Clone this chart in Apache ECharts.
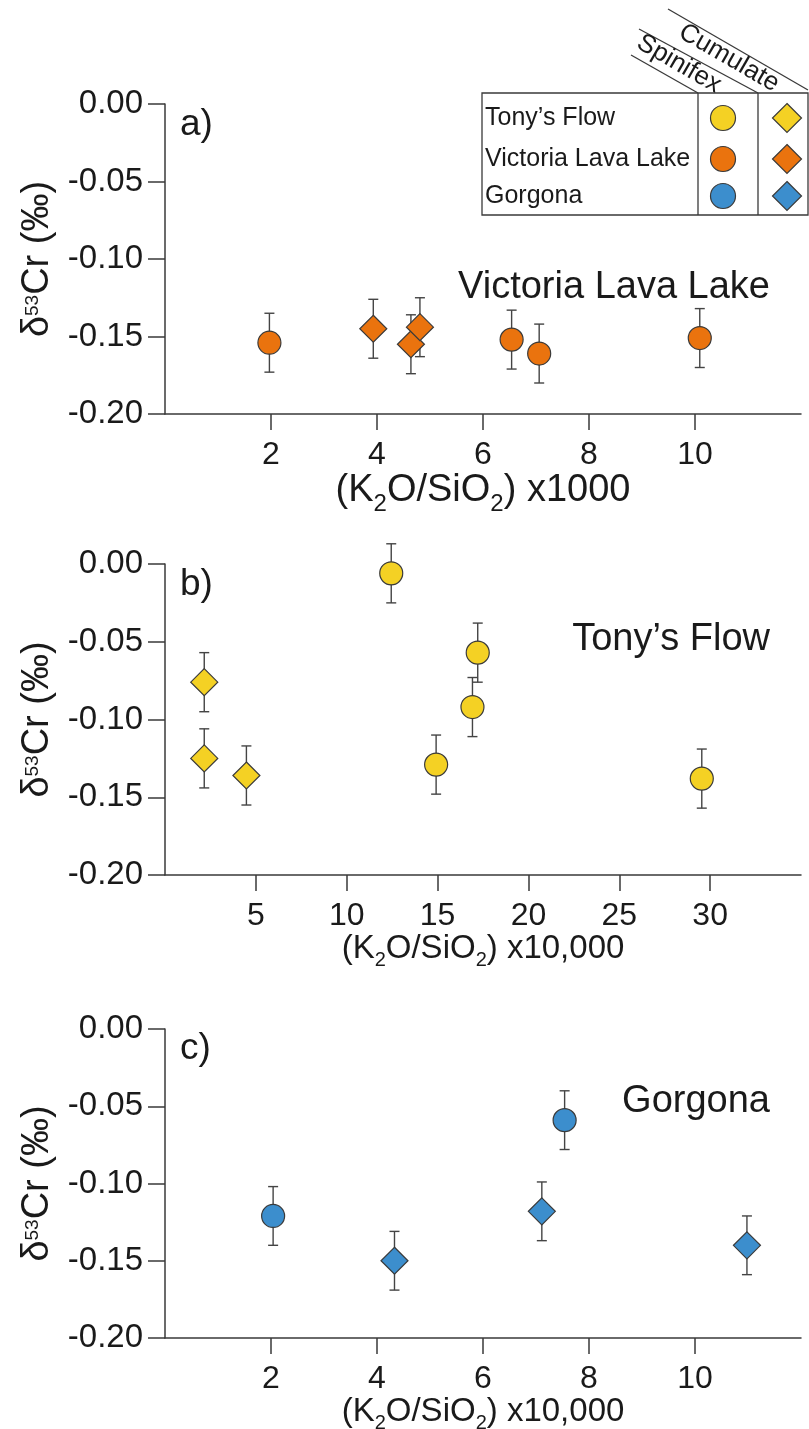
<!DOCTYPE html>
<html><head><meta charset="utf-8">
<script src="https://cdn.jsdelivr.net/npm/echarts@6/dist/echarts.min.js"></script>
<style>html,body{margin:0;padding:0;background:#fff}#c{width:809px;height:1429px}</style>
</head><body><div id="c"></div>
<script>
// ---- data ----
// a) Victoria Lava Lake, x = (K2O/SiO2) x1000
const vllSpinX = [1.97, 6.54, 7.06, 10.09];
const vllSpinY = [-0.154, -0.152, -0.161, -0.151];
const vllSpinErr = [0.019, 0.019, 0.019, 0.019];
const vllCumX = [3.93, 4.64, 4.81];
const vllCumY = [-0.145, -0.155, -0.144];
const vllCumErr = [0.019, 0.019, 0.019];
// b) Tony's Flow, x = (K2O/SiO2) x10,000
const tfSpinX = [12.45, 14.92, 16.92, 17.21, 29.54];
const tfSpinY = [-0.006, -0.129, -0.092, -0.057, -0.138];
const tfSpinErr = [0.019, 0.019, 0.019, 0.019, 0.019];
const tfCumX = [2.16, 2.16, 4.48];
const tfCumY = [-0.076, -0.125, -0.136];
const tfCumErr = [0.019, 0.019, 0.019];
// c) Gorgona, x = (K2O/SiO2) x10,000
const gorSpinX = [2.04, 7.54];
const gorSpinY = [-0.121, -0.059];
const gorSpinErr = [0.019, 0.019];
const gorCumX = [4.33, 7.11, 10.98];
const gorCumY = [-0.150, -0.118, -0.140];
const gorCumErr = [0.019, 0.019, 0.019];

const xTicksA = [2, 4, 6, 8, 10];
const xTicksB = [5, 10, 15, 20, 25, 30];
const xTicksC = [2, 4, 6, 8, 10];
const yTicks = [-0.20, -0.15, -0.10, -0.05, 0.00];

const panelLabels = ['a)', 'b)', 'c)'];
const panelNames = ['Victoria Lava Lake', "Tony\u2019s Flow", 'Gorgona'];
const legendRows = ["Tony\u2019s Flow", 'Victoria Lava Lake', 'Gorgona'];
const legendCols = ['Spinifex', 'Cumulate'];

// ---- styles ----
const FONT = '"Liberation Sans", Arial, sans-serif';
const AX = '#3a3a3a';
const TXT = '#1a1a1a';
const YEL = '#F4D124', ORA = '#EA730E', BLU = '#3C8ECD';
const EDGE = '#3a3a3a';

function zip(xs, ys, es) { return xs.map((x, i) => es ? [x, ys[i], es[i]] : [x, ys[i]]); }

const grids = [
  { left: 165, top: 104, width: 636, height: 310, outerBoundsMode: 'none', containLabel: false },
  { left: 165, top: 564, width: 636, height: 311, outerBoundsMode: 'none', containLabel: false },
  { left: 165, top: 1029, width: 636, height: 309, outerBoundsMode: 'none', containLabel: false }
];

function xAxisCfg(gi, max, interval, ticks, nameRich, nameSize, nameGap) {
  return {
    type: 'value', gridIndex: gi, min: 0, max: max, interval: interval,
    axisLine: { show: true, onZero: false, lineStyle: { color: AX, width: 1.5 } },
    axisTick: { show: true, length: 16, customValues: ticks, lineStyle: { color: AX, width: 1.5 } },
    axisLabel: { customValues: ticks, margin: 25, fontSize: 32, color: TXT, fontFamily: FONT },
    splitLine: { show: false },
    name: nameRich, nameLocation: 'middle', nameGap: nameGap,
    nameTextStyle: {
      fontSize: nameSize, color: TXT, fontFamily: FONT, lineHeight: nameSize,
      rich: {
        n: { fontSize: nameSize, fontFamily: FONT, color: TXT, lineHeight: nameSize },
        s: { fontSize: Math.round(nameSize * 0.62), fontFamily: FONT, color: TXT, verticalAlign: 'bottom',
             lineHeight: nameSize, height: Math.round(nameSize * 0.3) }
      }
    }
  };
}
function yAxisCfg(gi) {
  return {
    type: 'value', gridIndex: gi, min: -0.2, max: 0, interval: 0.05,
    axisLine: { show: true, onZero: false, lineStyle: { color: AX, width: 1.5 } },
    axisTick: { show: true, length: 17, customValues: yTicks, lineStyle: { color: AX, width: 1.5 } },
    axisLabel: { customValues: yTicks, margin: 22, fontSize: 33, color: TXT, fontFamily: FONT,
      formatter: v => (Math.abs(v) < 1e-9 ? 0 : v).toFixed(2) },
    splitLine: { show: false },
    name: '{n|\u03B4}{p|53}{n|Cr (\u2030)}', nameLocation: 'middle', nameGap: 108,
    nameTextStyle: {
      fontSize: 38, color: TXT, fontFamily: FONT, lineHeight: 38,
      rich: {
        n: { fontSize: 38, fontFamily: FONT, color: TXT, lineHeight: 38 },
        p: { fontSize: 19, fontFamily: FONT, color: TXT, verticalAlign: 'top', lineHeight: 38, height: 28 }
      }
    }
  };
}

function errRender(params, api) {
  const x = api.value(0), y = api.value(1), e = api.value(2);
  const t = api.coord([x, y + e]);
  const b = api.coord([x, y - e]);
  const cw = 5;
  const st = { stroke: '#444', lineWidth: 1.4 };
  return { type: 'group', children: [
    { type: 'line', shape: { x1: t[0], y1: t[1], x2: b[0], y2: b[1] }, style: st },
    { type: 'line', shape: { x1: t[0] - cw, y1: t[1], x2: t[0] + cw, y2: t[1] }, style: st },
    { type: 'line', shape: { x1: b[0] - cw, y1: b[1], x2: b[0] + cw, y2: b[1] }, style: st }
  ] };
}

function panelSeries(gi, color, sx, sy, se, cx, cy, ce) {
  return [
    { type: 'custom', xAxisIndex: gi, yAxisIndex: gi, renderItem: errRender, z: 1,
      data: zip(sx, sy, se).concat(zip(cx, cy, ce)), encode: { x: 0, y: 1 }, silent: true },
    { type: 'scatter', xAxisIndex: gi, yAxisIndex: gi, symbol: 'diamond', symbolSize: 27, z: 3,
      itemStyle: { color: color, borderColor: EDGE, borderWidth: 1.2, opacity: 1 }, data: zip(cx, cy) },
    { type: 'scatter', xAxisIndex: gi, yAxisIndex: gi, symbol: 'circle', symbolSize: 23, z: 4,
      itemStyle: { color: color, borderColor: EDGE, borderWidth: 1.2, opacity: 1 }, data: zip(sx, sy) }
  ];
}

const nameA = '{n|(K}{s|2}{n|O/SiO}{s|2}{n|) x1000}';
const nameB = '{n|(K}{s|2}{n|O/SiO}{s|2}{n|) x10,000}';

// ---- legend & annotations as graphic ----
const g = [];
const lgTop = 93, lgBot = 215, lgLeft = 482, lgRight = 808, div1 = 698, div2 = 758;
g.push({ type: 'rect', shape: { x: lgLeft, y: lgTop, width: lgRight - lgLeft, height: lgBot - lgTop },
  style: { fill: 'none', stroke: AX, lineWidth: 1.3 } });
g.push({ type: 'line', shape: { x1: div1, y1: lgTop, x2: div1, y2: lgBot }, style: { stroke: AX, lineWidth: 1.3 } });
g.push({ type: 'line', shape: { x1: div2, y1: lgTop, x2: div2, y2: lgBot }, style: { stroke: AX, lineWidth: 1.3 } });
g.push({ type: 'line', shape: { x1: 631, y1: 55, x2: div1, y2: lgTop }, style: { stroke: AX, lineWidth: 1.3 } });
g.push({ type: 'line', shape: { x1: 639, y1: 29, x2: div2, y2: lgTop }, style: { stroke: AX, lineWidth: 1.3 } });
g.push({ type: 'line', shape: { x1: 668, y1: 9, x2: lgRight, y2: 90 }, style: { stroke: AX, lineWidth: 1.3 } });
g.push({ type: 'text', x: 679, y: 64, rotation: -Math.PI / 6,
  style: { text: legendCols[0], font: '26px ' + FONT, fill: TXT, textAlign: 'center', textVerticalAlign: 'middle' } });
g.push({ type: 'text', x: 729, y: 58, rotation: -Math.PI / 6,
  style: { text: legendCols[1], font: '26px ' + FONT, fill: TXT, textAlign: 'center', textVerticalAlign: 'middle' } });
const rowY = [118, 159, 196];
const legColors = [YEL, ORA, BLU];
legendRows.forEach((t, i) => {
  g.push({ type: 'text', x: 485, y: rowY[i], style: { text: t, font: '25px ' + FONT, fill: TXT, textAlign: 'left', textVerticalAlign: 'middle' } });
  g.push({ type: 'circle', shape: { cx: 723, cy: rowY[i], r: 12.5 }, style: { fill: legColors[i], stroke: EDGE, lineWidth: 1.2 } });
  const dx = 787, dy = rowY[i], h = 14.5;
  g.push({ type: 'polygon', shape: { points: [[dx, dy - h], [dx + h, dy], [dx, dy + h], [dx - h, dy]] }, style: { fill: legColors[i], stroke: EDGE, lineWidth: 1.2 } });
});
const labY = [125, 585, 1049];
panelLabels.forEach((t, i) => {
  g.push({ type: 'text', x: 180, y: labY[i], style: { text: t, font: '37px ' + FONT, fill: TXT, textAlign: 'left', textVerticalAlign: 'middle' } });
});
const annY = [288, 640, 1102];
panelNames.forEach((t, i) => {
  g.push({ type: 'text', x: 770, y: annY[i], style: { text: t, font: '38px ' + FONT, fill: TXT, textAlign: 'right', textVerticalAlign: 'middle' } });
});

const option = {
  backgroundColor: '#ffffff',
  animation: false,
  grid: grids,
  xAxis: [
    xAxisCfg(0, 12, 2, xTicksA, nameA, 38, 50),
    xAxisCfg(1, 35, 5, xTicksB, nameB, 33, 57),
    xAxisCfg(2, 12, 2, xTicksC, nameB, 33, 57)
  ],
  yAxis: [yAxisCfg(0), yAxisCfg(1), yAxisCfg(2)],
  series: [].concat(
    panelSeries(0, ORA, vllSpinX, vllSpinY, vllSpinErr, vllCumX, vllCumY, vllCumErr),
    panelSeries(1, YEL, tfSpinX, tfSpinY, tfSpinErr, tfCumX, tfCumY, tfCumErr),
    panelSeries(2, BLU, gorSpinX, gorSpinY, gorSpinErr, gorCumX, gorCumY, gorCumErr)
  ),
  graphic: g
};
const chart = echarts.init(document.getElementById('c'), null, { renderer: 'canvas' });
chart.setOption(option);
</script>
</body></html>
